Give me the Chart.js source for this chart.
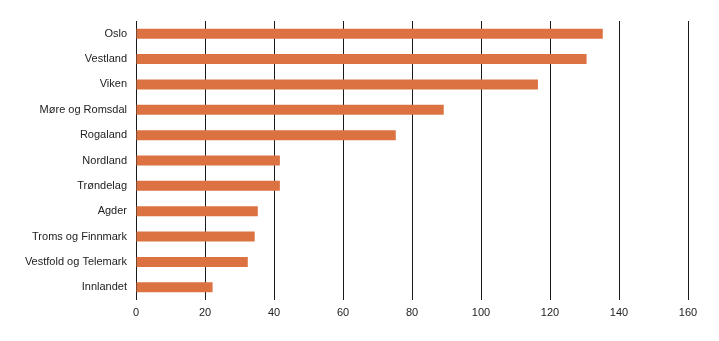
<!DOCTYPE html>
<html>
<head>
<meta charset="utf-8">
<script src="https://cdn.jsdelivr.net/npm/chart.js@4/dist/chart.umd.min.js"></script>
<style>
  html, body { margin: 0; padding: 0; background: #fff; }
  #wrap { width: 719px; height: 341px; position: relative; }
</style>
</head>
<body>
<div id="wrap"><canvas id="chart"></canvas></div>
<script>
// Fylker og verdier
const regions = ['Oslo', 'Vestland', 'Viken', 'Møre og Romsdal', 'Rogaland', 'Nordland',
  'Trøndelag', 'Agder', 'Troms og Finnmark', 'Vestfold og Telemark', 'Innlandet'];
const values = [135.3, 130.6, 116.5, 89.2, 75.3, 41.7, 41.7, 35.3, 34.4, 32.4, 22.2];
const xTicks = [0, 20, 40, 60, 80, 100, 120, 140, 160];

const barColor = '#dc7242';
const gridColor = '#1a1a1a';
const font = { family: '"Liberation Sans", Arial, sans-serif', size: 11 };

new Chart(document.getElementById('chart').getContext('2d'), {
  type: 'bar',
  data: {
    labels: regions,
    datasets: [{
      data: values,
      backgroundColor: barColor,
      borderWidth: 0,
      barPercentage: 0.394,
      categoryPercentage: 1
    }]
  },
  options: {
    indexAxis: 'y',
    responsive: true,
    maintainAspectRatio: false,
    animation: false,
    layout: { padding: { top: 21, right: 31, bottom: 0, left: 0 } },
    plugins: { legend: { display: false }, tooltip: { enabled: false } },
    scales: {
      x: {
        min: 0,
        max: 160,
        afterBuildTicks: scale => { scale.ticks = xTicks.map(v => ({ value: v })); },
        afterFit: scale => { scale.height = 41; },
        border: { display: false },
        grid: { color: gridColor, lineWidth: 1, drawTicks: false },
        ticks: { color: '#222', font: font, padding: 6, maxRotation: 0 }
      },
      y: {
        afterFit: scale => { scale.width = 136; },
        border: { display: false },
        grid: { display: false, drawTicks: false },
        ticks: { color: '#222', font: font, padding: 9 }
      }
    }
  }
});
</script>
</body>
</html>
